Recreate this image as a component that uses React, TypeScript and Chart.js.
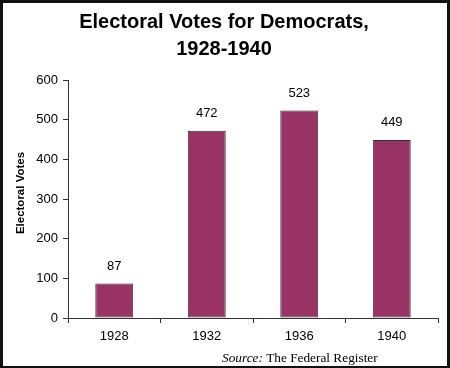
import React, { useEffect, useRef } from "react";
import { Chart, registerables } from "chart.js";

Chart.register(...registerables);

const years = ["1928", "1932", "1936", "1940"];
const electoralVotes = [87, 472, 523, 449];
const yTicks = [0, 100, 200, 300, 400, 500, 600];
const titleLines = ["Electoral Votes for Democrats,", "1928-1940"];
const yAxisTitle = "Electoral Votes";
const sourceLabel = "Source:";
const sourceText = " The Federal Register";

const W = 450;
const H = 368;
const SANS = "'Liberation Sans', Arial, sans-serif";
const SERIF = "'Liberation Serif', 'Times New Roman', serif";

const decorPlugin = {
  id: "decor",
  beforeDraw(chart: any) {
    const ctx = chart.ctx;
    ctx.save();
    ctx.fillStyle = "#ffffff";
    ctx.fillRect(0, 0, W, H);
    ctx.restore();
  },
  afterDraw(chart: any) {
    const ctx = chart.ctx;
    ctx.save();
    // title
    ctx.fillStyle = "#000";
    ctx.textAlign = "center";
    ctx.textBaseline = "alphabetic";
    ctx.font = `bold 20px ${SANS}`;
    ctx.fillText(titleLines[0], 224, 28);
    ctx.fillText(titleLines[1], 224, 55);
    // y-axis title
    ctx.save();
    ctx.translate(24, 193);
    ctx.rotate(-Math.PI / 2);
    ctx.font = `bold 11.5px ${SANS}`;
    ctx.textBaseline = "alphabetic";
    ctx.fillText(yAxisTitle, 0, 0);
    ctx.restore();
    // data labels
    const meta = chart.getDatasetMeta(0);
    ctx.font = `13px ${SANS}`;
    ctx.textBaseline = "middle";
    meta.data.forEach((bar: any, i: number) => {
      ctx.fillText(String(electoralVotes[i]), bar.x, bar.y - 17);
    });
    // source
    ctx.textAlign = "left";
    ctx.textBaseline = "alphabetic";
    ctx.font = `italic 13.3px ${SERIF}`;
    const x0 = 222;
    ctx.fillText(sourceLabel, x0, 362);
    const w = ctx.measureText(sourceLabel).width;
    ctx.font = `13.3px ${SERIF}`;
    ctx.fillText(sourceText, x0 + w, 362);
    // border
    ctx.fillStyle = "#111";
    ctx.fillRect(0, 0, W, 3);
    ctx.fillRect(0, 0, 3, H);
    ctx.fillRect(W - 3, 0, 3, H);
    ctx.fillRect(0, H - 2, W, 2);
    ctx.restore();
  },
};

export default function App() {
  const ref = useRef<HTMLCanvasElement>(null);
  useEffect(() => {
    const chart = new Chart(ref.current!, {
      type: "bar",
      data: {
        labels: years,
        datasets: [
          {
            data: electoralVotes,
            backgroundColor: "#993366",
            borderColor: "#333333",
            borderWidth: 1,
            borderSkipped: false,
            barPercentage: 0.41,
            categoryPercentage: 1,
          },
        ],
      },
      options: {
        animation: false,
        responsive: false,
        layout: { padding: { left: 3, top: 80, right: 12, bottom: 2 } },
        plugins: {
          legend: { display: false },
          title: { display: false },
          tooltip: { enabled: false },
        },
        scales: {
          x: {
            grid: {
              display: true,
              drawOnChartArea: false,
              drawTicks: true,
              tickLength: 5,
              color: "#333",
              offset: true,
            },
            border: { display: true, color: "#333", width: 1 },
            ticks: {
              color: "#000",
              padding: 6,
              font: { size: 13, family: SANS },
            },
            afterFit: (s: any) => {
              s.height = 48;
            },
          },
          y: {
            min: 0,
            max: 600,
            afterBuildTicks: (s: any) => {
              s.ticks = yTicks.map((v) => ({ value: v }));
            },
            grid: {
              display: true,
              drawOnChartArea: false,
              drawTicks: true,
              tickLength: 5,
              color: "#333",
            },
            border: { display: true, color: "#333", width: 1 },
            ticks: {
              color: "#000",
              padding: 5,
              font: { size: 13, family: SANS },
            },
            afterFit: (s: any) => {
              s.width = 65;
            },
          },
        },
      },
      plugins: [decorPlugin],
    } as any);
    return () => chart.destroy();
  }, []);
  return (
    <div style={{ position: "absolute", left: 0, top: 0, width: W, height: H }}>
      <canvas ref={ref} width={W} height={H} style={{ width: W, height: H, display: "block" }} />
    </div>
  );
}
